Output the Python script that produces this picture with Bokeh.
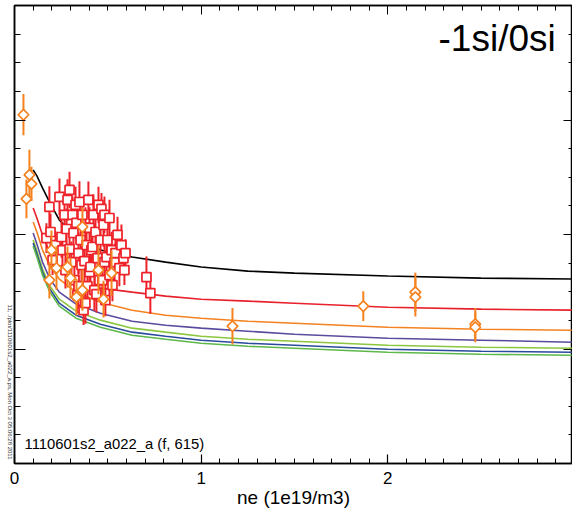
import math
from bokeh.plotting import figure
from bokeh.models import Range1d, FixedTicker, LinearAxis, Label, ColumnDataSource
from bokeh.embed import file_html
from bokeh.resources import INLINE

# ---- model curves ----
curve_x = [0.10, 0.12, 0.15, 0.19, 0.24, 0.33, 0.46, 0.63, 0.81, 1.0, 1.25, 1.5, 2.0, 2.5, 3.0]
curve_black = [2.565, 2.512, 2.407, 2.276, 2.127, 1.969, 1.864, 1.803, 1.759, 1.716, 1.680, 1.663, 1.637, 1.619, 1.611]
curve_red = [2.232, 2.144, 1.996, 1.838, 1.707, 1.593, 1.532, 1.497, 1.462, 1.435, 1.418, 1.400, 1.365, 1.348, 1.339]
curve_orange = [2.109, 2.022, 1.864, 1.724, 1.611, 1.497, 1.409, 1.339, 1.295, 1.269, 1.243, 1.225, 1.190, 1.173, 1.164]
curve_purple = [2.013, 1.917, 1.759, 1.611, 1.497, 1.392, 1.313, 1.243, 1.208, 1.182, 1.155, 1.129, 1.094, 1.077, 1.059]
curve_yellowgreen = [1.952, 1.856, 1.698, 1.549, 1.435, 1.330, 1.252, 1.182, 1.147, 1.112, 1.085, 1.068, 1.033, 1.015, 1.007]
curve_blue = [1.926, 1.829, 1.672, 1.523, 1.400, 1.295, 1.217, 1.147, 1.112, 1.077, 1.050, 1.033, 0.998, 0.980, 0.972]
curve_green = [1.899, 1.803, 1.646, 1.497, 1.374, 1.269, 1.190, 1.120, 1.085, 1.050, 1.024, 1.007, 0.972, 0.954, 0.945]

# ---- orange diamond data (x, y, err) ----
dia_x = [0.048, 0.080, 0.091, 0.064, 0.198, 0.225, 0.187, 0.284, 0.300, 0.332, 0.364, 0.364, 0.450, 0.520, 0.477,
         1.168, 1.869, 2.148, 2.148, 2.469, 2.469]
dia_y = [3.046, 2.521, 2.442, 2.311, 1.864, 1.707, 1.602, 1.716, 1.619, 1.453, 1.514, 2.066, 1.689, 1.663, 1.435,
         1.199, 1.374, 1.497, 1.453, 1.217, 1.190]
dia_err = [0.18, 0.22, 0.15, 0.17, 0.17, 0.19, 0.16, 0.18, 0.18, 0.16, 0.18, 0.17, 0.21, 0.20, 0.16,
           0.16, 0.13, 0.17, 0.17, 0.14, 0.13]

# ---- red square data (x, y, err) ----
sq_x = [0.171, 0.187, 0.193, 0.204, 0.220, 0.241, 0.252, 0.257, 0.268, 0.273, 0.279, 0.284, 0.295, 0.295, 0.305,
        0.311, 0.316, 0.321, 0.327, 0.332, 0.337, 0.343, 0.343, 0.348, 0.354, 0.359, 0.364, 0.370, 0.375, 0.380,
        0.380, 0.386, 0.391, 0.396, 0.402, 0.402, 0.407, 0.412, 0.418, 0.423, 0.428, 0.434, 0.439, 0.445, 0.450,
        0.455, 0.461, 0.466, 0.471, 0.477, 0.482, 0.482, 0.487, 0.493, 0.498, 0.509, 0.509, 0.520, 0.525, 0.536,
        0.541, 0.552, 0.562, 0.573, 0.584, 0.589, 0.595, 0.707, 0.728]
sq_y = [1.969, 2.241, 2.022, 1.777, 1.908, 2.328, 1.978, 1.864, 2.171, 1.689, 2.048, 2.302, 1.873, 2.389, 1.759,
        2.171, 2.013, 1.602, 2.258, 2.101, 1.470, 1.838, 1.549, 2.284, 1.952, 1.733, 2.171, 1.339, 1.768, 1.400,
        2.057, 1.908, 1.549, 2.302, 2.057, 1.672, 1.716, 1.864, 1.891, 2.171, 1.514, 2.022, 1.479, 1.794, 2.258,
        1.602, 1.952, 2.223, 1.602, 2.083, 2.171, 1.759, 1.427, 1.803, 1.952, 2.144, 1.646, 1.864, 1.558, 1.759,
        1.838, 1.996, 1.707, 1.908, 1.794, 1.689, 1.838, 1.628, 1.488]
sq_err = [0.13, 0.18, 0.16, 0.13, 0.12, 0.16, 0.18, 0.16, 0.14, 0.16, 0.18, 0.18, 0.19, 0.16, 0.18,
          0.16, 0.19, 0.18, 0.16, 0.18, 0.16, 0.18, 0.19, 0.18, 0.18, 0.16, 0.16, 0.13, 0.19, 0.18,
          0.18, 0.18, 0.18, 0.16, 0.18, 0.19, 0.18, 0.18, 0.19, 0.18, 0.18, 0.18, 0.16, 0.18, 0.16,
          0.18, 0.18, 0.14, 0.16, 0.19, 0.16, 0.18, 0.14, 0.18, 0.16, 0.16, 0.18, 0.16, 0.14, 0.16,
          0.14, 0.16, 0.16, 0.18, 0.14, 0.13, 0.12, 0.18, 0.18]

x_major = [0, 1, 2, 3]
x_major_labels = ["0", "1", "2", "3"]
x_minor = [round(0.1 * i, 1) for i in range(0, 31)]
y_major = [1, 2, 3]
y_minor = [0.25 * i for i in range(0, 17)]

stamp_text = "11, ./plot/1110601s2_a022_a.ps, Mon Oct  3 05:06:28 2011"
stamp_pos = 0.02

FONT = "Liberation Sans"

p = figure(width=572, height=512, x_range=Range1d(0, 2.99), y_range=Range1d(0, 4.0),
           output_backend="svg", toolbar_location=None,
           min_border_left=14, min_border_right=0, min_border_top=5, min_border_bottom=49)
p.xgrid.visible = False
p.ygrid.visible = False
p.outline_line_color = "black"
p.outline_line_width = 1.5
p.background_fill_color = "white"
p.border_fill_color = "white"

# bottom axis
xa = p.xaxis[0]
xa.ticker = FixedTicker(ticks=x_major, minor_ticks=x_minor)
xa.major_label_overrides = {t: s for t, s in zip(x_major, x_major_labels)}
xa.major_tick_in = 9
xa.major_tick_out = 0
xa.minor_tick_in = 5
xa.minor_tick_out = 0
xa.axis_line_width = 1.5
xa.major_tick_line_width = 1.2
xa.major_label_text_font = FONT
xa.major_label_text_font_size = "17px"
xa.major_label_text_color = "black"
xa.major_label_standoff = 8
xa.axis_label = "ne (1e19/m3)"
xa.axis_label_text_font = FONT
xa.axis_label_text_font_size = "19px"
xa.axis_label_text_font_style = "normal"
xa.axis_label_text_color = "black"
xa.axis_label_standoff = 0

# left axis (ticks only)
ya = p.yaxis[0]
ya.ticker = FixedTicker(ticks=y_major, minor_ticks=y_minor)
ya.major_label_overrides = {t: "" for t in y_major}
ya.major_tick_in = 11
ya.major_tick_out = 0
ya.minor_tick_in = 6
ya.minor_tick_out = 0
ya.axis_line_width = 1.5
ya.major_tick_line_width = 1.2
ya.major_label_standoff = 0

# stamp text on the far left, reading top to bottom
stamp_axis = LinearAxis(ticker=FixedTicker(ticks=[stamp_pos], minor_ticks=[]),
                        major_label_overrides={stamp_pos: stamp_text},
                        major_label_orientation=-math.pi / 2,
                        major_tick_in=0, major_tick_out=0, minor_tick_in=0, minor_tick_out=0,
                        axis_line_color=None, major_tick_line_color=None,
                        major_label_standoff=5, major_label_text_font=FONT,
                        major_label_text_font_size="6px", major_label_text_color="#333333")
p.add_layout(stamp_axis, "left")

# top and right axes (ticks only)
top = LinearAxis(ticker=FixedTicker(ticks=x_major, minor_ticks=x_minor),
                 major_label_overrides={t: "" for t in x_major},
                 major_tick_in=9, major_tick_out=0, minor_tick_in=5, minor_tick_out=0,
                 major_label_standoff=0, axis_line_width=1.5)
p.add_layout(top, "above")
right = LinearAxis(ticker=FixedTicker(ticks=y_major, minor_ticks=y_minor),
                   major_label_overrides={t: "" for t in y_major},
                   major_tick_in=9, major_tick_out=0, minor_tick_in=4, minor_tick_out=0,
                   major_label_standoff=0, axis_line_width=1.5)
p.add_layout(right, "right")

# curves
curves = [(curve_black, "#000000"), (curve_red, "#e8202a"), (curve_orange, "#f58220"),
          (curve_purple, "#5b4a9e"), (curve_yellowgreen, "#8cc63f"), (curve_blue, "#2a4b9b"),
          (curve_green, "#5cb84a")]
for ys, c in curves:
    p.line(curve_x, ys, line_color=c, line_width=1.6)

# red squares with error bars
sq_src = ColumnDataSource(dict(x=sq_x, y=sq_y,
                               lo=[a - b for a, b in zip(sq_y, sq_err)],
                               hi=[a + b for a, b in zip(sq_y, sq_err)]))
p.segment(x0="x", y0="lo", x1="x", y1="hi", source=sq_src, line_color="#ee2229", line_width=2)
p.scatter(x="x", y="y", source=sq_src, marker="square", size=9, fill_color="white",
          line_color="#ee2229", line_width=1.7)

# orange diamonds with error bars
dia_src = ColumnDataSource(dict(x=dia_x, y=dia_y,
                                lo=[a - b for a, b in zip(dia_y, dia_err)],
                                hi=[a + b for a, b in zip(dia_y, dia_err)]))
p.segment(x0="x", y0="lo", x1="x", y1="hi", source=dia_src, line_color="#f5821f", line_width=2)
p.scatter(x="x", y="y", source=dia_src, marker="square", angle=math.pi / 4, size=7.5,
          fill_color="white", line_color="#f5821f", line_width=1.7)

# texts
p.add_layout(Label(x=2.90, y=3.71, text="-1si/0si", text_align="right", text_baseline="alphabetic",
                   text_font=FONT, text_font_size="37px", text_color="black"))
p.add_layout(Label(x=0.054, y=0.17, text="1110601s2_a022_a (f, 615)", text_align="left",
                   text_baseline="alphabetic", text_font=FONT, text_font_size="14.8px", text_color="black"))

open("out.html", "w").write(file_html(p, INLINE))
